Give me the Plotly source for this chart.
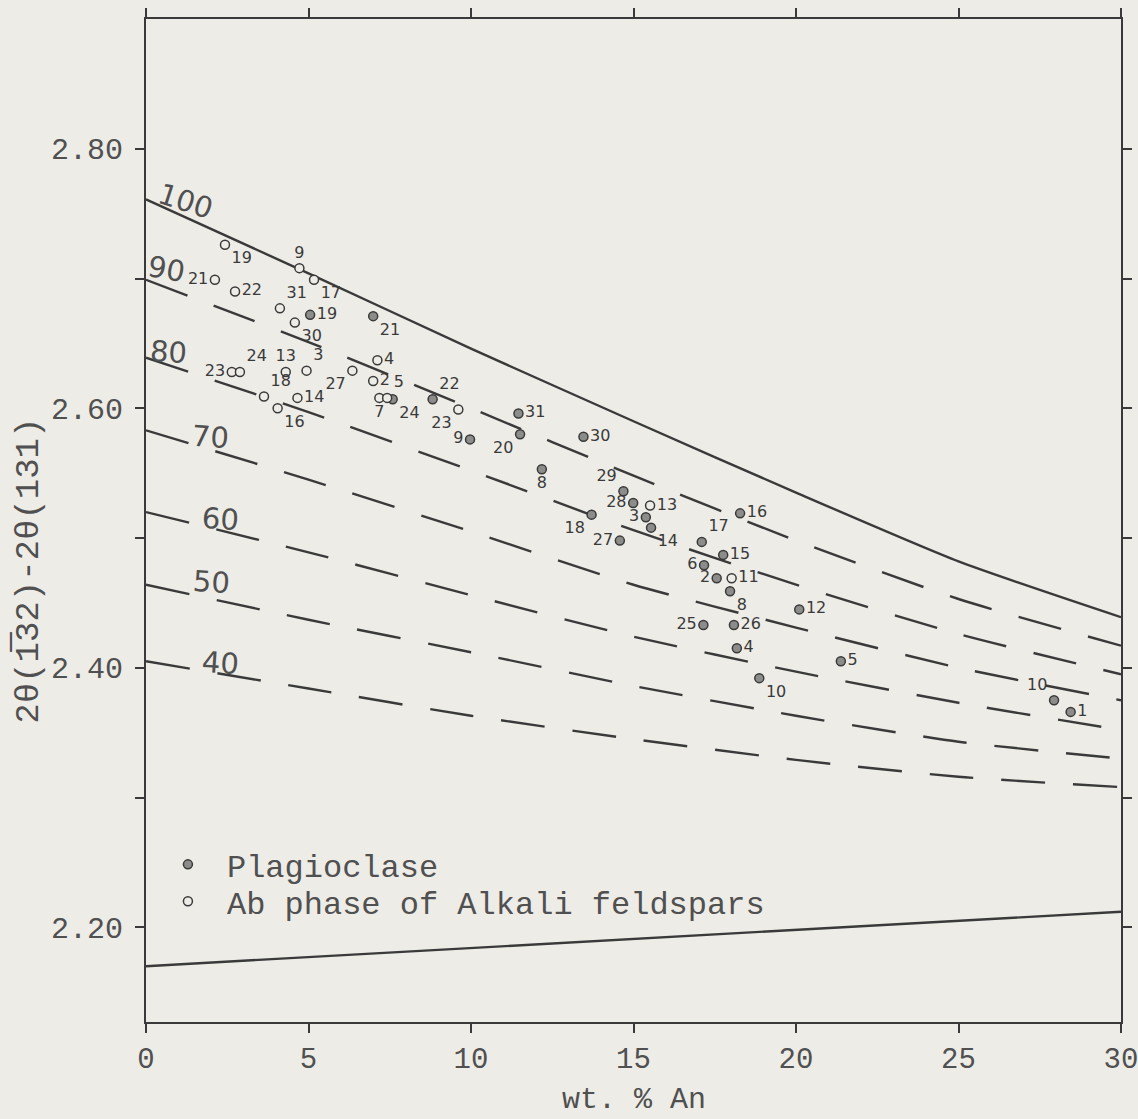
import plotly.graph_objects as go

# ---------------- data ----------------
x_grid = [0, 5, 10, 15, 20, 25, 30]
iso_names = ["100", "90", "80", "70", "60", "50", "40"]
iso_100 = [2.761, 2.704, 2.646, 2.590, 2.535, 2.482, 2.439]
iso_90 = [2.699, 2.651, 2.600, 2.548, 2.498, 2.453, 2.417]
iso_80 = [2.639, 2.597, 2.552, 2.506, 2.464, 2.426, 2.395]
iso_70 = [2.583, 2.545, 2.505, 2.464, 2.431, 2.400, 2.375]
iso_60 = [2.520, 2.489, 2.456, 2.424, 2.397, 2.373, 2.352]
iso_50 = [2.464, 2.437, 2.412, 2.386, 2.363, 2.343, 2.330]
iso_40 = [2.405, 2.384, 2.363, 2.345, 2.329, 2.316, 2.308]
base_x = [0, 30]
base_y = [2.170, 2.212]

# Ab phase of alkali feldspars (open circles)
ab_x = [2.43, 4.72, 5.17, 2.12, 2.74, 4.12, 4.58, 7.12, 2.64, 2.89, 4.30, 4.94,
        6.35, 6.99, 7.18, 7.42, 3.63, 4.66, 4.05, 9.61, 15.51, 18.02]
ab_y = [2.726, 2.708, 2.699, 2.699, 2.690, 2.677, 2.666, 2.637, 2.628, 2.628, 2.628, 2.629,
        2.629, 2.621, 2.608, 2.608, 2.609, 2.608, 2.600, 2.599, 2.525, 2.469]
ab_lab = ["19", "9", "17", "21", "22", "31", "30", "4", "23", "24", "13", "3",
          "27", "2", "7", "5", "18", "14", "16", "23", "13", "11"]

# Plagioclase (filled circles)
pl_x = [5.05, 6.99, 7.59, 8.82, 11.46, 9.97, 11.51, 13.46, 12.18, 14.69, 14.99, 13.71,
        15.38, 15.54, 14.58, 17.10, 18.28, 17.76, 17.17, 17.56, 17.97, 20.10, 17.15,
        18.09, 18.18, 18.87, 21.38, 27.94, 28.45]
pl_y = [2.672, 2.671, 2.607, 2.607, 2.596, 2.576, 2.580, 2.578, 2.553, 2.536, 2.527, 2.518,
        2.516, 2.508, 2.498, 2.497, 2.519, 2.487, 2.479, 2.469, 2.459, 2.445, 2.433,
        2.433, 2.415, 2.392, 2.405, 2.375, 2.366]
pl_lab = ["19", "21", "24", "22", "31", "9", "20", "30", "8", "29", "28", "18",
          "3", "14", "27", "17", "16", "15", "6", "2", "8", "12", "25",
          "26", "4", "10", "5", "10", "1"]

y_tickvals = [2.2, 2.3, 2.4, 2.5, 2.6, 2.7, 2.8]
y_ticktext = ["2.20", "", "2.40", "", "2.60", "", "2.80"]
x_tickvals = [0, 5, 10, 15, 20, 25, 30]

# ---------------- styling / layout helpers ----------------
INK = "#3a3a3a"
TXT = "#505050"
BG = "#edece7"
MONO = "Liberation Mono, Courier New, monospace"
HAND = "DejaVu Sans, sans-serif"

ab_pos = ["bottom right", "top center", "bottom right", "middle left", "middle right",
          "top right", "bottom right", "middle right", "middle left", "top right",
          "top center", "top right", "bottom left", "middle right", "bottom center",
          "top right", "top right", "middle right", "bottom right", "bottom left",
          "middle right", "middle right"]
pl_pos = ["middle right", "bottom right", "bottom right", "top right", "middle right",
          "middle left", "bottom left", "middle right", "bottom center", "top left",
          "middle left", "bottom left", "middle left", "bottom right", "middle left",
          "top right", "middle right", "middle right", "middle left", "middle left",
          "bottom right", "middle right", "middle left", "middle right", "middle right",
          "bottom right", "middle right", "top left", "middle right"]

fig = go.Figure()

iso_series = [iso_100, iso_90, iso_80, iso_70, iso_60, iso_50, iso_40]
for i, (name, ys) in enumerate(zip(iso_names, iso_series)):
    fig.add_trace(go.Scatter(
        x=x_grid, y=ys, mode="lines", showlegend=False, hoverinfo="skip",
        line=dict(color=INK, width=2.4, shape="spline", smoothing=0.6,
                  dash="solid" if i == 0 else "44px,28px")))

fig.add_trace(go.Scatter(x=base_x, y=base_y, mode="lines", showlegend=False,
                         hoverinfo="skip", line=dict(color=INK, width=2.4)))

fig.add_trace(go.Scatter(
    x=pl_x, y=pl_y, mode="markers+text", name="Plagioclase", legend="legend",
    text=pl_lab, textposition=pl_pos,
    textfont=dict(family=HAND, size=16, color=INK),
    marker=dict(size=9, color="#8c8c8a", line=dict(color=INK, width=1.5))))

fig.add_trace(go.Scatter(
    x=ab_x, y=ab_y, mode="markers+text", name="Ab phase of Alkali feldspars",
    legend="legend2",
    text=ab_lab, textposition=ab_pos,
    textfont=dict(family=HAND, size=16, color=INK),
    marker=dict(size=9, color=BG, line=dict(color=INK, width=1.5))))

# isopleth labels (layout positions)
iso_label_pos = [(1.2, 2.760, 18), (0.62, 2.707, 10), (0.68, 2.643, 4), (1.97, 2.578, 4),
                 (2.28, 2.515, 4), (2.03, 2.466, 4), (2.28, 2.404, 4)]
for name, (lx, ly, ang) in zip(iso_names, iso_label_pos):
    fig.add_annotation(x=lx, y=ly, text=name, showarrow=False, textangle=ang,
                       font=dict(family=HAND, size=29, color=TXT),
                       xanchor="center", yanchor="middle")

fig.add_annotation(xref="paper", yref="paper", x=-0.12, y=0.45,
                   text="2θ(1\u030532)-2θ(131)",
                   textangle=-90, showarrow=False,
                   font=dict(family=MONO, size=34, color=TXT),
                   xanchor="center", yanchor="middle")
fig.add_annotation(xref="paper", yref="paper", x=0.5, y=-0.078, text="wt. % An",
                   showarrow=False, font=dict(family=MONO, size=30, color=TXT),
                   xanchor="center", yanchor="middle")

leg_common = dict(xanchor="left", yanchor="top", bgcolor="rgba(0,0,0,0)",
                  font=dict(family=MONO, size=32, color=TXT), itemwidth=68)

fig.update_layout(
    width=1138, height=1119, autosize=False,
    margin=dict(l=146, r=17, t=19, b=97, autoexpand=False),
    paper_bgcolor=BG, plot_bgcolor=BG,
    showlegend=True,
    legend=dict(x=0.003, y=0.1844, **leg_common),
    legend2=dict(x=0.003, y=0.1476, **leg_common),
    xaxis=dict(range=[0, 30], tickvals=x_tickvals, ticks="outside", ticklen=9,
               tickwidth=2, tickcolor=INK, showline=True, linecolor=INK, linewidth=2.2,
               mirror="ticks", showgrid=False, zeroline=False, automargin=False,
               ticklabeloverflow="allow",
               tickfont=dict(family=MONO, size=29, color=TXT)),
    yaxis=dict(range=[2.127, 2.90], tickvals=y_tickvals, ticktext=y_ticktext,
               ticks="outside", ticklen=9, tickwidth=2, tickcolor=INK,
               showline=True, linecolor=INK, linewidth=2.2, mirror="ticks",
               showgrid=False, zeroline=False, ticklabelstandoff=6, automargin=False,
               ticklabeloverflow="allow",
               tickfont=dict(family=MONO, size=30, color=TXT)),
)

fig.write_html("out.html",
               config={"displayModeBar": False, "responsive": False},
               post_script="document.body.style.margin='0px';"
                           "document.body.style.overflow='hidden';"
                           "document.body.style.background='" + BG + "';")
